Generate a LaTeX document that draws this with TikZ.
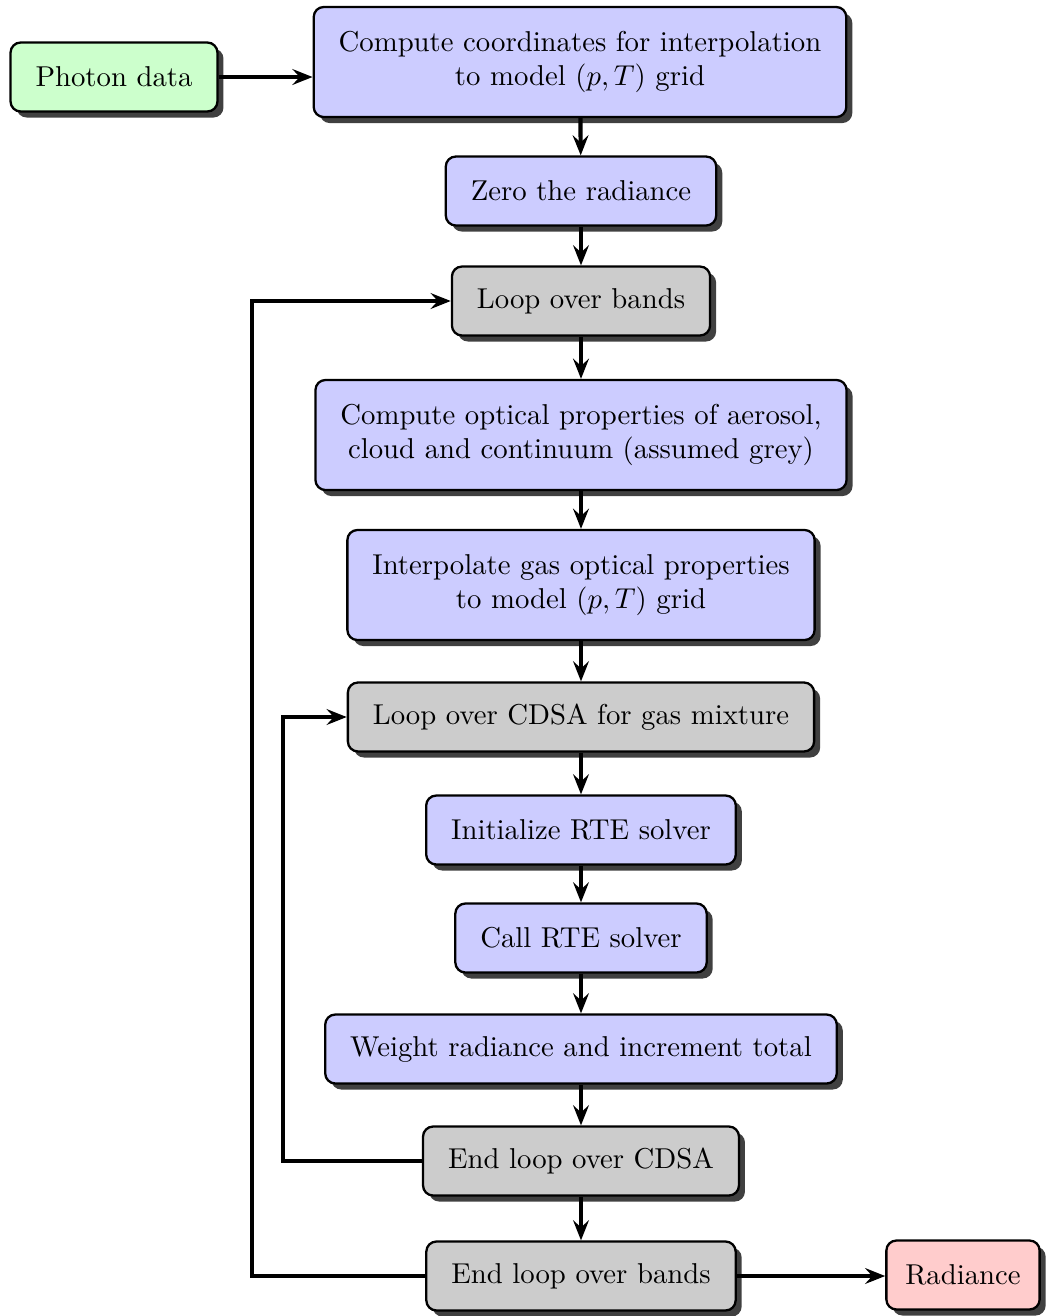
\documentclass[tikz,border=0pt]{standalone}
\usetikzlibrary{shadows,arrows.meta}
\tikzset{
  box/.style={draw=black, line width=0.8pt, rounded corners=3.5pt, align=center,
    inner xsep=8.7pt, inner ysep=4pt, minimum height=24pt,
    drop shadow={shadow xshift=2.1pt, shadow yshift=-2.1pt, fill=black!75, opacity=1}},
  proc/.style={box, fill=blue!20},
  loopbox/.style={box, fill=black!20},
  inbox/.style={box, fill=green!20},
  outbox/.style={box, fill=red!20},
  tall/.style={minimum height=38.3pt},
  arr/.style={line width=1.45pt, -{Stealth[length=7pt,width=5.5pt,inset=2.5pt]}}
}
\begin{document}
\begin{tikzpicture}[x=0.348pt,y=-0.348pt]
\useasboundingbox (0,0) rectangle (1048,1316);
\node[inbox] (pd) at (114,77) {Photon data};
\node[proc,tall] (cc) at (580,62) {Compute coordinates for interpolation\\to model $(p,T)$ grid};
\node[proc] (zr) at (581,191) {Zero the radiance};
\node[loopbox] (lob) at (581,301) {Loop over bands};
\node[proc,tall] (co) at (581,435) {Compute optical properties of aerosol,\\cloud and continuum (assumed grey)};
\node[proc,tall] (ig) at (581,585) {Interpolate gas optical properties\\to model $(p,T)$ grid};
\node[loopbox] (loc) at (581,717) {Loop over CDSA for gas mixture};
\node[proc] (ir) at (581,830) {Initialize RTE solver};
\node[proc] (cr) at (581,938) {Call RTE solver};
\node[proc] (wr) at (581,1049) {Weight radiance and increment total};
\node[loopbox] (elc) at (581,1161) {End loop over CDSA};
\node[loopbox] (elb) at (581,1276) {End loop over bands};
\node[outbox, inner xsep=6.6pt] (rad) at (963,1275) {Radiance};
\coordinate (oc) at (252,0);
\coordinate (ic) at (283,0);
\draw[arr] (pd.east) -- (pd.east -| cc.west);
\draw[arr] (cc) -- (zr);
\draw[arr] (zr) -- (lob);
\draw[arr] (lob) -- (co);
\draw[arr] (co) -- (ig);
\draw[arr] (ig) -- (loc);
\draw[arr] (loc) -- (ir);
\draw[arr] (ir) -- (cr);
\draw[arr] (cr) -- (wr);
\draw[arr] (wr) -- (elc);
\draw[arr] (elc) -- (elb);
\draw[arr] (elb.east) -- (elb.east -| rad.west);
\draw[arr] (elc.west) -- (elc.west -| ic) |- (loc.west);
\draw[arr] (elb.west) -- (elb.west -| oc) |- (lob.west);
\end{tikzpicture}
\end{document}
